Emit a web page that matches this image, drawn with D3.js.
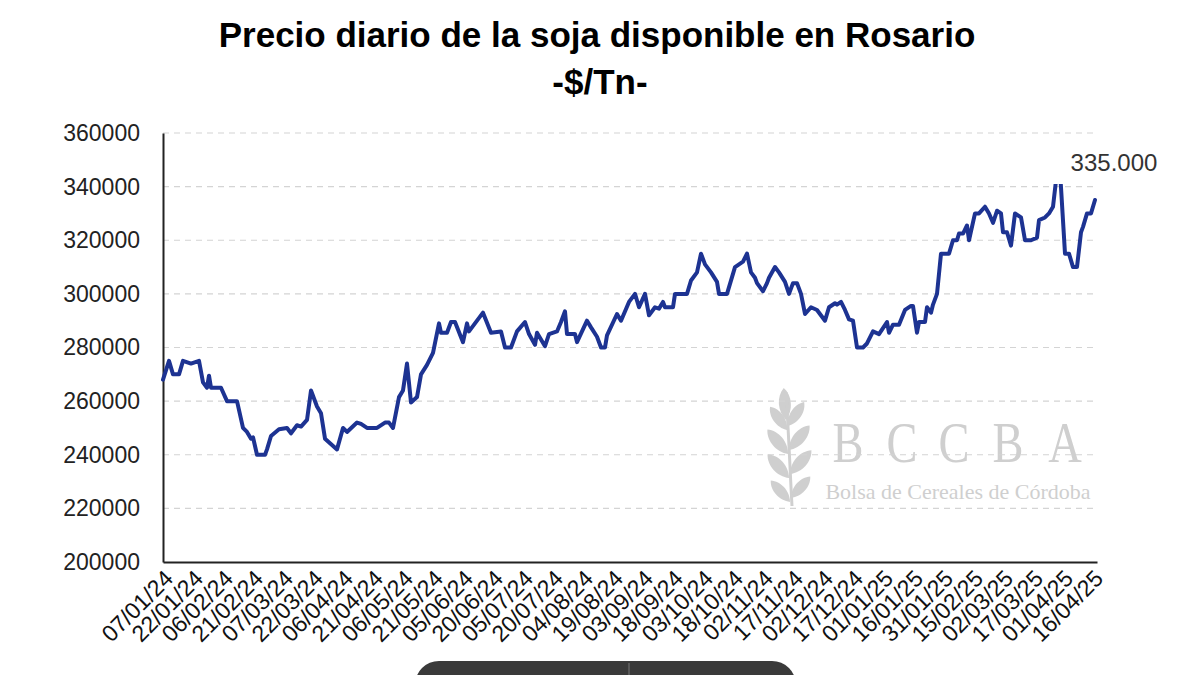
<!DOCTYPE html>
<html>
<head>
<meta charset="utf-8">
<script src="https://cdn.jsdelivr.net/npm/d3@7"></script>
<style>
  body { margin: 0; background: #fff; }
  svg { display: block; }
</style>
</head>
<body>
<svg id="chart" width="1200" height="675"></svg>
<script>
// Daily available soybean price in Rosario ($/Tn)
const dates = [
  "2024-01-05","2024-01-08","2024-01-10","2024-01-13","2024-01-15","2024-01-19","2024-01-23","2024-01-25",
  "2024-01-27","2024-01-28","2024-01-29","2024-02-03","2024-02-06","2024-02-11","2024-02-14","2024-02-16",
  "2024-02-18","2024-02-19","2024-02-21","2024-02-25","2024-02-26","2024-02-28","2024-03-03","2024-03-07",
  "2024-03-09","2024-03-12","2024-03-14","2024-03-17","2024-03-19","2024-03-22","2024-03-24","2024-03-26",
  "2024-04-01","2024-04-04","2024-04-06","2024-04-11","2024-04-13","2024-04-16","2024-04-21","2024-04-25",
  "2024-04-27","2024-04-29","2024-05-02","2024-05-04","2024-05-06","2024-05-08","2024-05-11","2024-05-13",
  "2024-05-16","2024-05-19","2024-05-22","2024-05-23","2024-05-26","2024-05-28","2024-05-30","2024-06-03",
  "2024-06-05","2024-06-06","2024-06-13","2024-06-17","2024-06-22","2024-06-24","2024-06-27","2024-06-30",
  "2024-07-04","2024-07-06","2024-07-09","2024-07-10","2024-07-14","2024-07-16","2024-07-20","2024-07-22",
  "2024-07-24","2024-07-25","2024-07-29","2024-07-30","2024-08-04","2024-08-06","2024-08-09","2024-08-11",
  "2024-08-13","2024-08-14","2024-08-19","2024-08-21","2024-08-25","2024-08-28","2024-08-30","2024-09-02",
  "2024-09-04","2024-09-07","2024-09-09","2024-09-11","2024-09-12","2024-09-16","2024-09-17","2024-09-23",
  "2024-09-25","2024-09-28","2024-09-30","2024-10-02","2024-10-05","2024-10-08","2024-10-09","2024-10-13",
  "2024-10-17","2024-10-19","2024-10-21","2024-10-23","2024-10-25","2024-10-27","2024-10-28","2024-10-31",
  "2024-11-02","2024-11-03","2024-11-06","2024-11-08","2024-11-11","2024-11-13","2024-11-15","2024-11-17",
  "2024-11-19","2024-11-21","2024-11-24","2024-11-27","2024-12-01","2024-12-03","2024-12-06","2024-12-07",
  "2024-12-09","2024-12-11","2024-12-13","2024-12-15","2024-12-17","2024-12-20","2024-12-22","2024-12-25",
  "2024-12-28","2025-01-01","2025-01-02","2025-01-04","2025-01-07","2025-01-10","2025-01-13","2025-01-14",
  "2025-01-16","2025-01-17","2025-01-20","2025-01-21","2025-01-23","2025-01-24","2025-01-26","2025-01-28",
  "2025-02-01","2025-02-03","2025-02-05","2025-02-06","2025-02-08","2025-02-10","2025-02-11","2025-02-14",
  "2025-02-16","2025-02-19","2025-02-21","2025-02-23","2025-02-25","2025-02-27","2025-02-28","2025-03-02",
  "2025-03-04","2025-03-06","2025-03-09","2025-03-11","2025-03-14","2025-03-17","2025-03-18","2025-03-21",
  "2025-03-23","2025-03-25","2025-03-28","2025-03-31","2025-04-02","2025-04-04","2025-04-06","2025-04-08",
  "2025-04-09","2025-04-11","2025-04-13","2025-04-15"
];

const prices = [
  268000,275000,270000,270000,275000,274000,275000,267000,
  265000,269500,265000,265000,260000,260000,250000,248500,
  246000,246500,240000,240000,242000,247000,249500,250000,
  248000,251000,250500,253000,264000,258000,255500,246000,
  242000,250000,248500,252000,251500,250000,250000,252000,
  252000,250000,261500,264000,274000,259500,261500,270000,
  273500,278000,289000,285500,285500,289500,289500,282000,
  289000,286000,293000,285500,286000,280000,280000,286000,
  289500,285000,281000,285500,280500,285000,286000,289500,
  293500,285000,285000,282000,290000,287500,284000,280000,
  280000,284500,292500,290000,297000,300000,295000,300000,
  292000,295000,294500,297000,295000,295000,300000,300000,
  305000,308000,315000,311000,308000,304500,300000,300000,
  310000,311000,312000,315000,308000,306000,304000,301000,
  304000,306000,310000,308000,304500,300000,304000,304000,
  300000,292500,295000,294000,290000,295000,296500,296000,
  297000,294000,290500,290000,280000,280000,281500,286000,
  285000,289500,285500,288500,288500,294000,295500,295500,
  285500,289500,289500,295000,293000,296000,300000,315000,
  315000,320000,320000,322500,322500,325500,320000,330000,
  330000,332500,330000,326500,331000,330000,323000,323000,
  318000,330000,328500,320000,320000,321000,327500,328500,
  330000,332500,352000,315000,315000,310000,310000,323000,
  325000,330000,330000,335000
];

const xTickLabels = [
  "07/01/24","22/01/24","06/02/24","21/02/24","07/03/24","22/03/24","06/04/24","21/04/24",
  "06/05/24","21/05/24","05/06/24","20/06/24","05/07/24","20/07/24","04/08/24","19/08/24",
  "03/09/24","18/09/24","03/10/24","18/10/24","02/11/24","17/11/24","02/12/24","17/12/24",
  "01/01/25","16/01/25","31/01/25","15/02/25","02/03/25","17/03/25","01/04/25","16/04/25"
];

const yTicks = [200000, 220000, 240000, 260000, 280000, 300000, 320000, 340000, 360000];

const lastLabel = "335.000";

const parseIso = d3.utcParse("%Y-%m-%d");
const parseTick = d3.utcParse("%d/%m/%y");

const data = dates.map((d, i) => ({ date: parseIso(d), value: prices[i] }));

const svg = d3.select("#chart");

const x = d3.scaleUtc()
    .domain([parseIso("2024-01-05"), parseIso("2025-04-16")])
    .range([163, 1097]);

const y = d3.scaleLinear()
    .domain([200000, 360000])
    .range([562, 133]);

// Title
svg.append("text")
    .attr("x", 597)
    .attr("y", 47)
    .attr("text-anchor", "middle")
    .style("font-family", "'Liberation Sans', Arial, sans-serif")
    .style("font-weight", "bold")
    .style("font-size", "35px")
    .attr("fill", "#000")
    .text("Precio diario de la soja disponible en Rosario");

svg.append("text")
    .attr("x", 600)
    .attr("y", 94)
    .attr("text-anchor", "middle")
    .style("font-family", "'Liberation Sans', Arial, sans-serif")
    .style("font-weight", "bold")
    .style("font-size", "35px")
    .attr("fill", "#000")
    .text("-$/Tn-");

// Watermark (drawn under the grid and line)
const wm = svg.append("g").attr("fill", "#cfcfcf");

const leaf = "M0,0 C8,-9 8,-24 0,-32 C-8,-24 -8,-9 0,0 Z";
const leaves = [
  { x: 790, y: 502, r: -42, s: 0.9 },
  { x: 789, y: 478, r: -42, s: 1.0 },
  { x: 788, y: 454, r: -40, s: 1.0 },
  { x: 787, y: 430, r: -36, s: 0.9 },
  { x: 791, y: 498, r: 42, s: 0.9 },
  { x: 790, y: 474, r: 42, s: 1.0 },
  { x: 789, y: 450, r: 40, s: 1.0 },
  { x: 788, y: 426, r: 34, s: 0.9 },
  { x: 786, y: 420, r: -4, s: 1.0 }
];
wm.selectAll("path.leaf")
    .data(leaves)
    .join("path")
    .attr("class", "leaf")
    .attr("d", leaf)
    .attr("transform", d => `translate(${d.x},${d.y}) rotate(${d.r}) scale(${d.s},${d.s})`);

wm.append("path")
    .attr("d", "M792,506 C790,470 789,440 786,392")
    .attr("fill", "none")
    .attr("stroke", "#cfcfcf")
    .attr("stroke-width", 3);

const bccba = ["B", "C", "C", "B", "A"];
const bccbaX = [848, 902, 954, 1008, 1065];
wm.selectAll("text.big")
    .data(bccba)
    .join("text")
    .attr("class", "big")
    .attr("x", (d, i) => bccbaX[i])
    .attr("y", 462)
    .attr("text-anchor", "middle")
    .style("font-family", "'Liberation Serif', 'Times New Roman', serif")
    .style("font-size", "58px")
    .attr("transform", (d, i) => `translate(${bccbaX[i] * 0.2},0) scale(0.8,1)`)
    .text(d => d);

wm.append("text")
    .attr("x", 958)
    .attr("y", 499)
    .attr("text-anchor", "middle")
    .style("font-family", "'Liberation Serif', 'Times New Roman', serif")
    .style("font-size", "22px")
    .text("Bolsa de Cereales de Córdoba");

// Grid
svg.append("g")
    .selectAll("line")
    .data(yTicks.slice(1))
    .join("line")
    .attr("x1", 163)
    .attr("x2", 1097)
    .attr("y1", d => y(d))
    .attr("y2", d => y(d))
    .attr("stroke", "#d4d4d4")
    .attr("stroke-width", 1.2)
    .attr("stroke-dasharray", "6,5");

// Y axis
const yAxis = svg.append("g")
    .attr("transform", "translate(163,0)")
    .call(d3.axisLeft(y).tickValues(yTicks).tickSize(0).tickPadding(23).tickFormat(d3.format("d")));
yAxis.select(".domain").attr("stroke", "#222").attr("stroke-width", 2);
yAxis.selectAll("text")
    .style("font-family", "'Liberation Sans', Arial, sans-serif")
    .style("font-size", "23px")
    .attr("fill", "#222");

// X axis
const xAxis = svg.append("g")
    .attr("transform", "translate(0,562)")
    .call(d3.axisBottom(x).tickValues(xTickLabels.map(parseTick)).tickSize(0).tickFormat((d, i) => xTickLabels[i]));
xAxis.select(".domain").attr("stroke", "#222").attr("stroke-width", 2);
xAxis.selectAll("text")
    .style("font-family", "'Liberation Sans', Arial, sans-serif")
    .style("font-size", "23px")
    .attr("fill", "#111")
    .attr("text-anchor", "end")
    .attr("dy", null)
    .attr("y", 0)
    .attr("transform", "translate(7,18) rotate(-45)");

// Price line
const line = d3.line()
    .x(d => x(d.date))
    .y(d => y(d.value));

svg.append("path")
    .datum(data)
    .attr("d", line)
    .attr("fill", "none")
    .attr("stroke", "#1d3392")
    .attr("stroke-width", 4)
    .attr("stroke-linejoin", "round")
    .attr("stroke-linecap", "round");

// Last value label with its white box
const last = data[data.length - 1];
svg.append("rect")
    .attr("x", x(last.date) - 44)
    .attr("y", 140)
    .attr("width", 116)
    .attr("height", 44)
    .attr("fill", "#fff");

svg.append("text")
    .attr("x", x(last.date) + 19)
    .attr("y", 171)
    .attr("text-anchor", "middle")
    .style("font-family", "'Liberation Sans', Arial, sans-serif")
    .style("font-size", "24px")
    .attr("fill", "#333")
    .text(lastLabel);

// Dark overlay bar at the bottom of the screenshot
svg.append("rect")
    .attr("x", 415)
    .attr("y", 661)
    .attr("width", 381)
    .attr("height", 50)
    .attr("rx", 24)
    .attr("fill", "#3a3a3a");
svg.append("line")
    .attr("x1", 629).attr("x2", 629)
    .attr("y1", 663).attr("y2", 675)
    .attr("stroke", "#777")
    .attr("stroke-width", 1);
</script>
</body>
</html>
